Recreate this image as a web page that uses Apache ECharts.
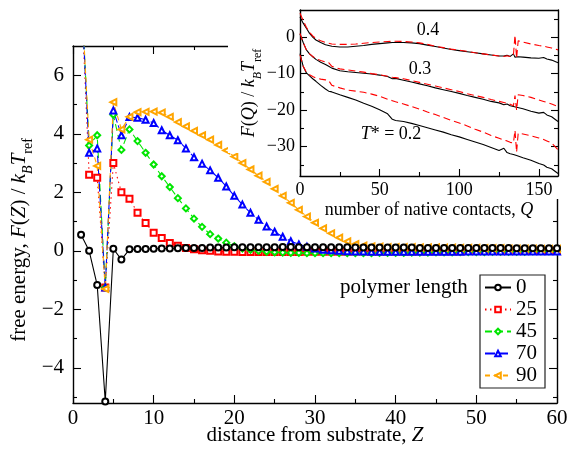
<!DOCTYPE html>
<html>
<head>
<meta charset="utf-8" />
<script src="https://cdn.jsdelivr.net/npm/echarts@6.0.0/dist/echarts.min.js"></script>
<style>
  html, body { margin: 0; padding: 0; background: #fff; }
  #main { width: 567px; height: 453px; }
</style>
</head>
<body>
<div id="main"></div>
<script type="text/javascript">
// main plot: free energy vs distance from substrate Z
const zValues = [1, 2, 3, 4, 5, 6, 7, 8, 9, 10, 11, 12, 13, 14, 15, 16, 17, 18, 19, 20,
  21, 22, 23, 24, 25, 26, 27, 28, 29, 30, 31, 32, 33, 34, 35, 36, 37, 38, 39, 40,
  41, 42, 43, 44, 45, 46, 47, 48, 49, 50, 51, 52, 53, 54, 55, 56, 57, 58, 59, 60];

const len0 = [0.55, 0.0, -1.17, -5.15, 0.07, -0.3, 0.05, 0.06, 0.06, 0.07,
  0.08, 0.08, 0.09, 0.1, 0.1, 0.1, 0.11, 0.11, 0.11, 0.12,
  0.12, 0.12, 0.12, 0.12, 0.12, 0.13, 0.13, 0.12, 0.12, 0.12,
  0.12, 0.12, 0.12, 0.12, 0.11, 0.11, 0.11, 0.11, 0.11, 0.11,
  0.11, 0.11, 0.1, 0.1, 0.1, 0.1, 0.1, 0.1, 0.1, 0.1,
  0.1, 0.1, 0.1, 0.1, 0.09, 0.09, 0.09, 0.09, 0.09, 0.09];
const len25 = [9.0, 2.6, 2.5, -1.25, 3.0, 2.0, 1.78, 1.3, 0.95, 0.62,
  0.44, 0.27, 0.17, 0.1, 0.05, 0.02, 0.0, -0.02, -0.03, -0.03,
  -0.04, -0.04, -0.04, -0.04, -0.04, -0.04, -0.04, -0.04, -0.03, -0.03,
  -0.03, -0.03, -0.03, -0.03, -0.02, -0.02, -0.02, -0.02, -0.02, -0.02,
  -0.02, -0.02, -0.01, -0.01, -0.01, -0.01, -0.01, -0.01, 0.0, 0.0,
  0.0, 0.0, 0.0, 0.0, 0.0, 0.0, 0.0, 0.0, 0.0, 0.0];
const len45 = [9.0, 3.6, 3.95, -1.25, 4.65, 3.45, 4.15, 3.75, 3.35, 2.95,
  2.55, 2.18, 1.8, 1.45, 1.1, 0.82, 0.57, 0.42, 0.28, 0.16,
  0.08, 0.03, 0.0, -0.03, -0.05, -0.06, -0.07, -0.07, -0.08, -0.08,
  -0.08, -0.08, -0.08, -0.08, -0.08, -0.08, -0.08, -0.07, -0.07, -0.07,
  -0.07, -0.06, -0.06, -0.06, -0.05, -0.05, -0.05, -0.04, -0.04, -0.04,
  -0.04, -0.03, -0.03, -0.03, -0.03, -0.03, -0.02, -0.02, -0.02, -0.02];
const len70 = [9.0, 3.35, 3.5, -1.25, 4.8, 3.95, 4.57, 4.55, 4.48, 4.37,
  4.12, 3.95, 3.78, 3.5, 3.2, 2.98, 2.75, 2.5, 2.2, 1.88,
  1.58, 1.3, 1.06, 0.83, 0.65, 0.48, 0.33, 0.22, 0.14, 0.08,
  0.04, 0.02, 0.0, -0.01, -0.02, -0.02, -0.03, -0.03, -0.03, -0.03,
  -0.03, -0.03, -0.03, -0.03, -0.03, -0.03, -0.03, -0.03, -0.02, -0.02,
  -0.02, -0.02, -0.02, -0.02, -0.02, -0.02, -0.02, -0.02, -0.02, -0.02];
const len90 = [9.0, 3.8, 2.9, -1.3, 5.08, 4.15, 4.58, 4.74, 4.75, 4.76,
  4.72, 4.58, 4.4, 4.25, 4.1, 3.95, 3.8, 3.62, 3.43, 3.22,
  3.0, 2.78, 2.57, 2.36, 2.12, 1.88, 1.64, 1.4, 1.17, 0.96,
  0.77, 0.6, 0.45, 0.32, 0.23, 0.18, 0.15, 0.14, 0.13, 0.13,
  0.13, 0.13, 0.12, 0.12, 0.12, 0.11, 0.11, 0.1, 0.1, 0.1,
  0.09, 0.09, 0.09, 0.08, 0.08, 0.08, 0.08, 0.07, 0.07, 0.07];

const lengthNames = ['0', '25', '45', '70', '90'];
const mainXTicks = [0, 10, 20, 30, 40, 50, 60];
const mainXMinor = [5, 15, 25, 35, 45, 55];
const mainYTicks = [-4, -2, 0, 2, 4, 6];
const mainYMinor = [-5, -3, -1, 1, 3, 5];

// inset: F(Q) vs number of native contacts
const qValues = [0, 2, 4, 6, 8, 10, 13, 16, 18, 20, 25, 30, 35, 40, 45, 50, 55, 58, 60, 65,
  70, 75, 80, 85, 90, 95, 100, 105, 110, 115, 120, 125, 128, 130, 132, 134, 135, 136, 137, 140,
  145, 150, 153, 155, 158, 162];
const black04 = [5.5, 3.8, 2.4, 1.0, 0.0, -0.8, -1.5, -2.1, -2.3, -2.5,
  -2.7, -2.7, -2.5, -2.3, -2.0, -1.8, -1.6, -1.5, -1.5, -1.5,
  -1.6, -1.8, -2.2, -2.6, -3.0, -3.4, -3.7, -4.0, -4.3, -4.6,
  -4.9, -5.2, -5.2, -5.0, -5.3, -4.6, -5.5, -5.0, -5.4, -5.5,
  -5.7, -5.8, -5.6, -6.0, -6.3, -7.0];
const red04 = [6.5, 4.5, 2.7, 1.3, 0.3, -0.4, -1.0, -1.5, -1.7, -1.9,
  -2.0, -2.0, -1.9, -1.7, -1.5, -1.35, -1.2, -1.15, -1.15, -1.2,
  -1.35, -1.6, -2.0, -2.5, -2.9, -3.3, -3.6, -3.9, -4.3, -4.6,
  -4.9, -5.2, -5.3, -5.1, -5.3, -5.0, 0.5, -5.8, -1.0, -1.4,
  -1.9, -2.3, -2.5, -2.7, -3.0, -3.5];
const black03 = [0.8, -1.5, -3.5, -4.6, -5.4, -6.1, -6.9, -7.5, -8.0, -8.5,
  -9.2, -9.5, -9.7, -9.9, -10.1, -10.4, -10.8, -11.4, -11.3, -11.8,
  -12.3, -12.8, -13.3, -13.9, -14.4, -14.9, -15.4, -16.0, -16.5, -17.0,
  -17.6, -18.0, -18.5, -18.3, -18.8, -19.0, -19.1, -19.2, -19.4, -19.6,
  -20.3, -20.8, -20.6, -21.3, -21.8, -23.1];
const red03 = [1.0, -1.5, -3.5, -4.6, -5.3, -5.9, -6.4, -6.8, -7.0, -8.0,
  -8.7, -9.0, -9.3, -9.6, -10.0, -10.3, -10.7, -11.0, -11.1, -11.4,
  -11.9, -12.4, -12.9, -13.4, -13.9, -14.4, -14.9, -15.5, -16.0, -16.5,
  -17.1, -17.6, -17.9, -18.1, -18.4, -18.8, -16.0, -20.0, -15.8, -16.0,
  -16.5, -17.2, -17.6, -17.9, -18.3, -19.0];
const black02 = [-4.5, -8.0, -9.8, -10.6, -11.4, -12.1, -13.2, -14.2, -14.8, -15.0,
  -15.8, -16.5, -17.2, -18.1, -18.9, -19.9, -21.0, -22.5, -22.8, -23.1,
  -23.6, -24.2, -24.8, -25.4, -26.0, -26.7, -27.3, -28.0, -28.7, -29.4,
  -30.2, -31.0, -30.4, -31.6, -31.9, -32.1, -32.2, -32.4, -32.5, -33.0,
  -33.7, -34.6, -35.0, -35.6, -36.0, -37.3];
const red02 = [-4.9, -8.0, -9.6, -10.3, -10.8, -11.2, -11.5, -11.7, -11.9, -13.2,
  -13.9, -14.5, -14.8, -15.1, -15.6, -16.2, -17.0, -17.4, -17.7, -18.3,
  -19.0, -19.7, -20.5, -21.2, -22.0, -22.8, -23.5, -24.3, -25.2, -26.0,
  -26.9, -27.7, -28.2, -28.4, -28.8, -29.0, -25.5, -31.5, -26.3, -26.5,
  -27.0, -27.6, -28.0, -28.4, -29.0, -30.8];
const insetXTicks = [0, 50, 100, 150];
const insetXMinor = [25, 75, 125];
const insetYTicks = [-30, -20, -10, 0];
const insetYMinor = [-35, -25, -15, -5, 5];

const FONT = 'Liberation Serif';
const minus = v => (v < 0 ? '\u2212' + (-v) : String(v));
const pairs = (xs, ys) => xs.map((x, i) => [x, ys[i]]);

// one axis edge: line + inward ticks at given values, optional labels
function edge(gridIndex, position, min, max, ticks, len, opt) {
  opt = opt || {};
  return {
    type: 'value', gridIndex: gridIndex, position: position, min: min, max: max,
    zlevel: opt.zlevel || 0, z: opt.zlevel ? 5 : 0,
    axisLine: { show: opt.line !== false, onZero: false, lineStyle: { color: '#000', width: 1.4 } },
    axisTick: { show: true, inside: true, length: len, customValues: ticks,
      lineStyle: { color: '#000', width: 1.1 } },
    axisLabel: opt.fontSize ? {
      show: true, customValues: ticks, formatter: minus, fontFamily: FONT,
      fontSize: opt.fontSize, color: '#000', margin: opt.margin
    } : { show: false },
    splitLine: { show: false }
  };
}

const xAxes = [
  edge(0, 'bottom', 0, 60, mainXTicks, 8, { fontSize: 21, margin: 5 }),
  edge(0, 'top', 0, 60, mainXTicks, 8),
  edge(0, 'bottom', 0, 60, mainXMinor, 4, { line: false }),
  edge(0, 'top', 0, 60, mainXMinor, 4, { line: false }),
  edge(1, 'bottom', 0, 162, insetXTicks, 7, { fontSize: 18, margin: 5, zlevel: 1 }),
  edge(1, 'top', 0, 162, [], 7, { zlevel: 1 }),
  edge(1, 'bottom', 0, 162, insetXMinor, 4, { line: false, zlevel: 1 })
];
const yAxes = [
  edge(0, 'left', -5.2, 7, mainYTicks, 8, { fontSize: 21, margin: 9 }),
  edge(0, 'right', -5.2, 7, mainYTicks, 8),
  edge(0, 'left', -5.2, 7, mainYMinor, 4, { line: false }),
  edge(0, 'right', -5.2, 7, mainYMinor, 4, { line: false }),
  edge(1, 'left', -38, 7.4, insetYTicks, 7, { fontSize: 18, margin: 5, zlevel: 1 }),
  edge(1, 'right', -38, 7.4, insetYTicks, 7, { zlevel: 1 }),
  edge(1, 'left', -38, 7.4, insetYMinor, 4, { line: false, zlevel: 1 }),
  edge(1, 'right', -38, 7.4, insetYMinor, 4, { line: false, zlevel: 1 })
];

function mainSeries(name, values, color, symbol, dash, rotate) {
  return {
    name: name, type: 'line', xAxisIndex: 0, yAxisIndex: 0,
    data: pairs(zValues, values),
    symbol: symbol, symbolSize: 6, symbolRotate: rotate || 0, showAllSymbol: true,
    itemStyle: { color: color, borderWidth: 1 },
    lineStyle: { color: color, width: 1.1, type: dash },
    emphasis: { disabled: true }
  };
}
function insetSeries(values, color, dash) {
  return {
    type: 'line', xAxisIndex: 4, yAxisIndex: 4, zlevel: 1, z: 6,
    data: pairs(qValues, values), showSymbol: false, symbol: 'none',
    lineStyle: { color: color, width: 1.1, type: dash },
    emphasis: { disabled: true }
  };
}

const sub = { fontFamily: FONT, verticalAlign: 'bottom' };
function richSet(size) {
  const s = Math.round(size * 0.68);
  return {
    n: { fontFamily: FONT, fontSize: size, lineHeight: size + 6, verticalAlign: 'top' },
    i: { fontFamily: FONT, fontSize: size, lineHeight: size + 6, verticalAlign: 'top', fontStyle: 'italic' },
    s: Object.assign({}, sub, { fontSize: s, lineHeight: s }),
    si: Object.assign({}, sub, { fontSize: s, lineHeight: s, fontStyle: 'italic' })
  };
}
function label(x, y, text, size, rot, align) {
  return {
    type: 'text', x: x, y: y, rotation: rot || 0, zlevel: 1, z: 10, silent: true,
    style: { text: text, fontFamily: FONT, fontSize: size, fill: '#000',
      align: align || 'center', verticalAlign: 'middle', rich: richSet(size) }
  };
}

const chart = echarts.init(document.getElementById('main'));
chart.setOption({
  animation: false,
  backgroundColor: '#fff',
  grid: [
    { left: 73, top: 46, width: 484, height: 357, outerBoundsMode: 'none', containLabel: false },
    { left: 300, top: 10, width: 258, height: 166, outerBoundsMode: 'none', containLabel: false, zlevel: 1 }
  ],
  xAxis: xAxes,
  yAxis: yAxes,
  legend: {
    data: lengthNames, orient: 'vertical', left: 480, top: 275,
    itemWidth: 26, itemHeight: 7, itemGap: 1, padding: [2, 8, 2, 4],
    borderColor: '#222', borderWidth: 1.2, backgroundColor: '#fff', selectedMode: false,
    textStyle: { fontFamily: FONT, fontSize: 21, color: '#000', lineHeight: 20 }
  },
  graphic: [
    { type: 'rect', zlevel: 1, z: 1, silent: true, shape: { x: 228, y: 0, width: 339, height: 153 }, style: { fill: '#fff' } },
    { type: 'rect', zlevel: 1, z: 1, silent: true, shape: { x: 296, y: 153, width: 271, height: 46 }, style: { fill: '#fff' } },
    label(22, 240, '{n|free energy, }{i|F}{n|(}{i|Z}{n|) / }{i|k}{si|B}{i|T}{s|ref}', 21, Math.PI / 2),
    label(315, 438, '{n|distance from substrate, }{i|Z}', 21),
    label(340, 290, '{n|polymer length}', 21, 0, 'left'),
    label(252, 93, '{i|F}{n|(}{i|Q}{n|) / }{i|k}{si|B}{i|T}{s|ref}', 18, Math.PI / 2),
    label(429, 213, '{n|number of native contacts, }{i|Q}', 18),
    label(428, 33, '{n|0.4}', 18),
    label(420, 72, '{n|0.3}', 18),
    label(391, 137, '{i|T}{n|* = 0.2}', 18)
  ],
  series: [
    mainSeries('25', len25, '#ff0000', 'emptyRect', [1.5, 3.5]),
    mainSeries('45', len45, '#00e600', 'emptyDiamond', [7, 4]),
    mainSeries('70', len70, '#0000ff', 'emptyTriangle', [10, 3]),
    mainSeries('90', len90, '#ffa500', 'emptyTriangle', [5, 4], 90),
    mainSeries('0', len0, '#000000', 'emptyCircle', 'solid'),
    insetSeries(black04, '#000', 'solid'),
    insetSeries(red04, '#ff0000', [7, 4]),
    insetSeries(black03, '#000', 'solid'),
    insetSeries(red03, '#ff0000', [7, 4]),
    insetSeries(black02, '#000', 'solid'),
    insetSeries(red02, '#ff0000', [7, 4])
  ]
});
</script>
</body>
</html>
